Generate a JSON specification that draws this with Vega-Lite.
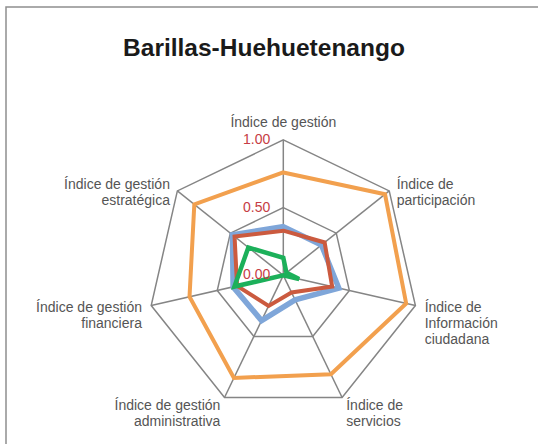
{
  "$schema": "https://vega.github.io/schema/vega-lite/v6.json",
  "autosize": {"type": "none"},
  "width": 560,
  "height": 460,
  "padding": {"left": 6, "top": 7, "right": 0, "bottom": 0},
  "background": "white",
  "config": {
    "view": {"stroke": "#8f8f8f", "strokeWidth": 1.5},
    "font": "Liberation Sans"
  },
  "title": {
    "text": "Barillas-Huehuetenango",
    "font": "Liberation Sans",
    "fontSize": 24.5,
    "fontWeight": "bold",
    "color": "#1a1a1a",
    "anchor": "middle",
    "dx": -22,
    "dy": 58
  },
  "datasets": {
    "series": [
      {"serie": "Serie 1", "axis": "Índice de gestión", "idx": 0, "value": 0.76},
      {"serie": "Serie 1", "axis": "Índice de participación", "idx": 1, "value": 0.96},
      {"serie": "Serie 1", "axis": "Índice de Información ciudadana", "idx": 2, "value": 0.93},
      {"serie": "Serie 1", "axis": "Índice de servicios", "idx": 3, "value": 0.81},
      {"serie": "Serie 1", "axis": "Índice de gestión administrativa", "idx": 4, "value": 0.84},
      {"serie": "Serie 1", "axis": "Índice de gestión financiera", "idx": 5, "value": 0.71},
      {"serie": "Serie 1", "axis": "Índice de gestión estratégica", "idx": 6, "value": 0.84},
      {"serie": "Serie 2", "axis": "Índice de gestión", "idx": 0, "value": 0.36},
      {"serie": "Serie 2", "axis": "Índice de participación", "idx": 1, "value": 0.36},
      {"serie": "Serie 2", "axis": "Índice de Información ciudadana", "idx": 2, "value": 0.42},
      {"serie": "Serie 2", "axis": "Índice de servicios", "idx": 3, "value": 0.2},
      {"serie": "Serie 2", "axis": "Índice de gestión administrativa", "idx": 4, "value": 0.37},
      {"serie": "Serie 2", "axis": "Índice de gestión financiera", "idx": 5, "value": 0.38},
      {"serie": "Serie 2", "axis": "Índice de gestión estratégica", "idx": 6, "value": 0.48},
      {"serie": "Serie 3", "axis": "Índice de gestión", "idx": 0, "value": 0.33},
      {"serie": "Serie 3", "axis": "Índice de participación", "idx": 1, "value": 0.39},
      {"serie": "Serie 3", "axis": "Índice de Información ciudadana", "idx": 2, "value": 0.37},
      {"serie": "Serie 3", "axis": "Índice de servicios", "idx": 3, "value": 0.14},
      {"serie": "Serie 3", "axis": "Índice de gestión administrativa", "idx": 4, "value": 0.25},
      {"serie": "Serie 3", "axis": "Índice de gestión financiera", "idx": 5, "value": 0.35},
      {"serie": "Serie 3", "axis": "Índice de gestión estratégica", "idx": 6, "value": 0.46},
      {"serie": "Serie 4", "axis": "Índice de gestión", "idx": 0, "value": 0.13},
      {"serie": "Serie 4", "axis": "Índice de participación", "idx": 1, "value": 0.03},
      {"serie": "Serie 4", "axis": "Índice de Información ciudadana", "idx": 2, "value": 0.12},
      {"serie": "Serie 4", "axis": "Índice de servicios", "idx": 3, "value": 0.0},
      {"serie": "Serie 4", "axis": "Índice de gestión administrativa", "idx": 4, "value": 0.0},
      {"serie": "Serie 4", "axis": "Índice de gestión financiera", "idx": 5, "value": 0.37},
      {"serie": "Serie 4", "axis": "Índice de gestión estratégica", "idx": 6, "value": 0.33}
    ],
    "axes": [
      {"idx": 0, "label": "Índice de gestión"},
      {"idx": 1, "label": "Índice de\nparticipación"},
      {"idx": 2, "label": "Índice de\nInformación\nciudadana"},
      {"idx": 3, "label": "Índice de\nservicios"},
      {"idx": 4, "label": "Índice de gestión\nadministrativa"},
      {"idx": 5, "label": "Índice de gestión\nfinanciera"},
      {"idx": 6, "label": "Índice de gestión\nestratégica"}
    ],
    "ticks": [
      {"v": 0, "txt": "0.00"},
      {"v": 0.5, "txt": "0.50"},
      {"v": 1, "txt": "1.00"}
    ]
  },
  "layer": [
    {
      "data": {"name": "axes"},
      "transform": [
        {"calculate": "datum.idx * 2 * PI / 7", "as": "ang"},
        {"calculate": "sin(datum.ang)", "as": "px"},
        {"calculate": "cos(datum.ang)", "as": "py"}
      ],
      "mark": {"type": "line", "interpolate": "linear-closed", "color": "#858585", "strokeWidth": 1.5},
      "encoding": {
        "x": {"field": "px", "type": "quantitative", "scale": {"domain": [-2.0465, 2.0863], "zero": false, "nice": false}, "axis": null},
        "y": {"field": "py", "type": "quantitative", "scale": {"domain": [-1.414, 1.9808], "zero": false, "nice": false}, "axis": null},
        "order": {"field": "idx", "type": "quantitative"}
      }
    },
    {
      "data": {"name": "axes"},
      "transform": [
        {"calculate": "datum.idx * 2 * PI / 7", "as": "ang"},
        {"calculate": "0.5 * sin(datum.ang)", "as": "px"},
        {"calculate": "0.5 * cos(datum.ang)", "as": "py"}
      ],
      "mark": {"type": "line", "interpolate": "linear-closed", "color": "#858585", "strokeWidth": 1.5},
      "encoding": {
        "x": {"field": "px", "type": "quantitative"},
        "y": {"field": "py", "type": "quantitative"},
        "order": {"field": "idx", "type": "quantitative"}
      }
    },
    {
      "data": {"name": "axes"},
      "transform": [
        {"calculate": "datum.idx * 2 * PI / 7", "as": "ang"},
        {"calculate": "sin(datum.ang)", "as": "px"},
        {"calculate": "cos(datum.ang)", "as": "py"}
      ],
      "mark": {"type": "rule", "color": "#858585", "strokeWidth": 1.5},
      "encoding": {
        "x": {"field": "px", "type": "quantitative"},
        "y": {"field": "py", "type": "quantitative"},
        "x2": {"datum": 0},
        "y2": {"datum": 0}
      }
    },
    {
      "data": {"name": "series"},
      "transform": [
        {"filter": "datum.serie == 'Serie 1'"},
        {"calculate": "datum.idx * 2 * PI / 7", "as": "ang"},
        {"calculate": "datum.value * sin(datum.ang)", "as": "px"},
        {"calculate": "datum.value * cos(datum.ang)", "as": "py"}
      ],
      "mark": {"type": "line", "interpolate": "linear-closed", "color": "#F2A04E", "strokeWidth": 4},
      "encoding": {
        "x": {"field": "px", "type": "quantitative"},
        "y": {"field": "py", "type": "quantitative"},
        "order": {"field": "idx", "type": "quantitative"}
      }
    },
    {
      "data": {"name": "series"},
      "transform": [
        {"filter": "datum.serie == 'Serie 2'"},
        {"calculate": "datum.idx * 2 * PI / 7", "as": "ang"},
        {"calculate": "datum.value * sin(datum.ang)", "as": "px"},
        {"calculate": "datum.value * cos(datum.ang)", "as": "py"}
      ],
      "mark": {"type": "line", "interpolate": "linear-closed", "color": "#7FA6D9", "strokeWidth": 5.5},
      "encoding": {
        "x": {"field": "px", "type": "quantitative"},
        "y": {"field": "py", "type": "quantitative"},
        "order": {"field": "idx", "type": "quantitative"}
      }
    },
    {
      "data": {"name": "series"},
      "transform": [
        {"filter": "datum.serie == 'Serie 3'"},
        {"calculate": "datum.idx * 2 * PI / 7", "as": "ang"},
        {"calculate": "datum.value * sin(datum.ang)", "as": "px"},
        {"calculate": "datum.value * cos(datum.ang)", "as": "py"}
      ],
      "mark": {"type": "line", "interpolate": "linear-closed", "color": "#CB5A3F", "strokeWidth": 4},
      "encoding": {
        "x": {"field": "px", "type": "quantitative"},
        "y": {"field": "py", "type": "quantitative"},
        "order": {"field": "idx", "type": "quantitative"}
      }
    },
    {
      "data": {"name": "series"},
      "transform": [
        {"filter": "datum.serie == 'Serie 4'"},
        {"calculate": "datum.idx * 2 * PI / 7", "as": "ang"},
        {"calculate": "datum.value * sin(datum.ang)", "as": "px"},
        {"calculate": "datum.value * cos(datum.ang)", "as": "py"}
      ],
      "mark": {"type": "line", "interpolate": "linear-closed", "color": "#1CB05A", "strokeWidth": 4.5},
      "encoding": {
        "x": {"field": "px", "type": "quantitative"},
        "y": {"field": "py", "type": "quantitative"},
        "order": {"field": "idx", "type": "quantitative"}
      }
    },
    {
      "data": {"name": "ticks"},
      "mark": {"type": "text", "align": "right", "baseline": "middle", "dx": -13, "fontSize": 14, "color": "#C63C44", "font": "Liberation Sans"},
      "encoding": {
        "x": {"datum": 0, "type": "quantitative"},
        "y": {"field": "v", "type": "quantitative"},
        "text": {"field": "txt"}
      }
    },
    {
      "data": {"name": "axes"},
      "transform": [
        {"filter": "datum.idx == 0"},
        {"calculate": "datum.idx * 2 * PI / 7", "as": "ang"},
        {"calculate": "1.07 * sin(datum.ang)", "as": "px"},
        {"calculate": "1.07 * cos(datum.ang)", "as": "py"}
      ],
      "mark": {"type": "text", "align": "center", "baseline": "bottom", "lineBreak": "\n", "lineHeight": 16, "fontSize": 14, "color": "#555555", "font": "Liberation Sans"},
      "encoding": {
        "x": {"field": "px", "type": "quantitative"},
        "y": {"field": "py", "type": "quantitative"},
        "text": {"field": "label"}
      }
    },
    {
      "data": {"name": "axes"},
      "transform": [
        {"filter": "datum.idx >= 1 && datum.idx <= 3"},
        {"calculate": "datum.idx * 2 * PI / 7", "as": "ang"},
        {"calculate": "1.07 * sin(datum.ang)", "as": "px"},
        {"calculate": "1.07 * cos(datum.ang)", "as": "py"}
      ],
      "mark": {"type": "text", "align": "left", "baseline": "middle", "lineBreak": "\n", "lineHeight": 16, "fontSize": 14, "color": "#555555", "font": "Liberation Sans"},
      "encoding": {
        "x": {"field": "px", "type": "quantitative"},
        "y": {"field": "py", "type": "quantitative"},
        "text": {"field": "label"}
      }
    },
    {
      "data": {"name": "axes"},
      "transform": [
        {"filter": "datum.idx >= 4"},
        {"calculate": "datum.idx * 2 * PI / 7", "as": "ang"},
        {"calculate": "1.07 * sin(datum.ang)", "as": "px"},
        {"calculate": "1.07 * cos(datum.ang)", "as": "py"}
      ],
      "mark": {"type": "text", "align": "right", "baseline": "middle", "lineBreak": "\n", "lineHeight": 16, "fontSize": 14, "color": "#555555", "font": "Liberation Sans"},
      "encoding": {
        "x": {"field": "px", "type": "quantitative"},
        "y": {"field": "py", "type": "quantitative"},
        "text": {"field": "label"}
      }
    }
  ]
}
